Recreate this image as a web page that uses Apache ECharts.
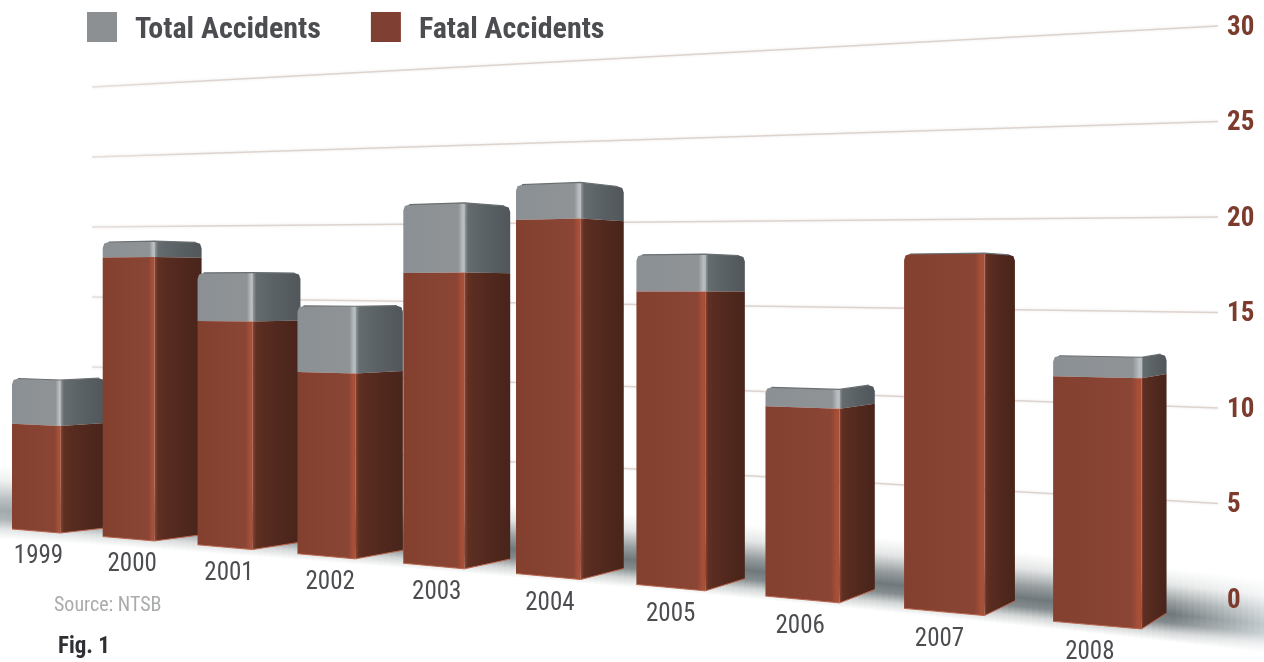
<!DOCTYPE html>
<html><head><meta charset="utf-8">
<style>html,body{margin:0;padding:0;background:#fff}#c{width:1264px;height:662px}</style>
<script src="https://cdn.jsdelivr.net/npm/echarts@6/dist/echarts.min.js"></script>
</head><body><div id="c"></div>
<script>
const years = ['1999','2000','2001','2002','2003','2004','2005','2006','2007','2008'];
const totalAccidents = [10,19,17,15,21,22,18,11,18,13];
const fatalAccidents = [7,18,14,11,17,20,16,10,18,12];
const gridTicks = [5,10,15,20,25,30];

const G = echarts.graphic;
const FONT = '"Roboto Condensed","Open Sans Condensed",sans-serif';
const chart = echarts.init(document.getElementById('c'), null, {renderer:'canvas'});

// Perspective of the scene: depth t (0 = far left bar) to screen geometry
const gridLeft = 12, gridW = 1210, band = gridW / years.length;
const tOf = cx => (cx - gridLeft) / band - 0.5;
const leftEdge  = t => 12 + 82.2*t + 3.72*t*t + 0.15*t*(t-5)*(t-9);
const rightEdge = t => 105 + 86*t + 3.55*t*t + 0.22*t*(t-5)*(t-9);
const cornerFrac = t => 0.52 + 0.0032*t*t;
const baseY = t => 533 + 7.6*t + 0.34*t*t;
const unitPx = t => 15.3 + 0.46*t + 0.018*t*t;
const axisUnit = 19.1, EYE = 290;

function boxGeom(api, cat, vLow, vHigh){
  const p0 = api.coord([cat, 0]);
  const t = tOf(p0[0]);
  const k = unitPx(t)/axisUnit, b = baseY(t);
  const L = leftEdge(t), R = rightEdge(t), C = L + (R-L)*cornerFrac(t);
  const dL = 4 + 0.4*t, dR = 5 + 1.2*t;
  const row = v => {
    const Y = b - (p0[1] - api.coord([cat, v])[1]) * k;
    const f = (Y-EYE)/(b-EYE);
    return {c:Y, l:Y-dL*f, r:Y-dR*f};
  };
  return {t, L, R, C, lo:row(vLow), hi:row(vHigh)};
}
const hGrad = stops => new G.LinearGradient(0,0,1,0,stops.map(c=>({offset:c[0],color:c[1]})));

const RED = {
  front:[[0,'#83402f'],[0.88,'#8a4535'],[0.97,'#ab5038'],[1,'#a54c34']],
  side:[[0,'#8f4430'],[0.08,'#5f2f22'],[0.3,'#572b20'],[1,'#48241a']]
};
const GREY = {
  front:[[0,'#8b9094'],[0.9,'#8f9396'],[0.98,'#bcc1c4'],[1,'#aeb3b6']],
  side:[[0,'#9ba0a3'],[0.08,'#646c6f'],[0.4,'#5c6366'],[1,'#50565a']]
};

function box(api, cat, vLow, vHigh, shade, rounded, z2){
  const {L,R,C,lo,hi} = boxGeom(api, cat, vLow, vHigh);
  const r = rounded ? 6 : 0;
  const fp = rounded
    ? [[L,lo.l],[L,hi.l+r],[L+1.5,hi.l+1.5],[L+r,hi.l],[C,hi.c],[C,lo.c]]
    : [[L,lo.l],[L,hi.l],[C,hi.c],[C,lo.c]];
  const sp = rounded
    ? [[C,lo.c],[C,hi.c],[R-r,hi.r],[R-1.5,hi.r+1.5],[R,hi.r+r],[R,lo.r]]
    : [[C,lo.c],[C,hi.c],[R,hi.r],[R,lo.r]];
  const kids = [
    {type:'polygon', z2, shape:{points:fp}, style:{fill:hGrad(shade.front)}},
    {type:'polygon', z2, shape:{points:sp}, style:{fill:hGrad(shade.side)}}
  ];
  if (rounded) kids.push({type:'polyline', z2, shape:{points:[[L+r,hi.l],[C,hi.c],[R-r,hi.r]]},
      style:{fill:'none',stroke:'#6a6f72',lineWidth:1.2}});
  return kids;
}

function renderTotal(params, api){
  const i = api.value(0), tot = api.value(1), fat = api.value(2);
  if (tot <= fat) return null;
  return {type:'group', children: box(api, i, fat, tot, GREY, true, 10+2*params.dataIndex)};
}
function renderFatal(params, api){
  const i = api.value(0), fat = api.value(1), tot = api.value(2);
  const z2 = 11+2*params.dataIndex;
  const kids = box(api, i, 0, fat, RED, tot <= fat, z2);
  const g = boxGeom(api, i, 0, fat);
  kids.push({type:'polyline', z2, shape:{points:[[g.L,g.lo.l],[g.C,g.lo.c],[g.R,g.lo.r]]},
     style:{fill:'none',stroke:'#b9654c',lineWidth:1}});
  kids.push({type:'text', z2:40, style:{
     text: years[params.dataIndex], x:(g.L+g.R)/2-20, y:baseY(g.t)+24,
     align:'center', verticalAlign:'middle', fill:'#4b4d50',
     font:'25px '+FONT}});
  return {type:'group', children:kids};
}
function renderGridLine(params, api){
  const v = api.value(0);
  const p0 = api.coord([0,0]), pv = api.coord([0,v]);
  const h = p0[1]-pv[1];
  return {type:'line', z2:0, shape:{x1:92, y1:507-h*14/axisUnit, x2:1218, y2:pv[1]+2},
    style:{stroke:new G.LinearGradient(0,0,1,0,[{offset:0,color:'#e6dfdb'},{offset:.1,color:'#ddd4cf'},{offset:1,color:'#ddd3ce'}]),
      lineWidth:1.5, shadowBlur:3, shadowColor:'#ece8e6'}};
}

// Floor shadow (opaque strips so that overlaps do not show)
const shadow = [];
const mix = (a,w) => Math.round(255-(255-a)*w);
for (let x=0; x<1264; x+=6){
  const c = 511 + 0.065*x + 0.00002*x*x;
  const fadeR = x<1170 ? 0 : (x-1170)/94;
  const fadeL = x<300 ? (300-x)/300 : 0;
  const d = 112 + fadeR*85 + fadeL*50;
  const col = w => `rgb(${mix(d,w)},${mix(d+8,w)},${mix(d+11,w)})`;
  shadow.push({type:'rect', z:-1, silent:true,
    shape:{x:x, y:c-46, width:7, height:46+28},
    style:{fill:new G.LinearGradient(0,0,0,1,[
      {offset:0,color:'#ffffff'},{offset:.22,color:col(.18)},{offset:.45,color:col(.72)},
      {offset:.62,color:col(1)},{offset:.74,color:col(.85)},{offset:.87,color:col(.3)},{offset:1,color:'#ffffff'}])}});
}

chart.setOption({
  animation:false,
  backgroundColor:'#ffffff',
  grid:{left:gridLeft, width:gridW, top:24, height:573},
  legend:{
    left:82, top:7, itemWidth:30, itemHeight:30, itemGap:50, icon:'rect',
    data:['Total Accidents','Fatal Accidents'],
    formatter:n=>'{a|'+n+'}',
    textStyle:{rich:{a:{fontFamily:FONT, fontWeight:'bold', fontSize:30, color:'#4b4d50', padding:[6,0,0,13]}}}
  },
  xAxis:{type:'category', data:years, show:false},
  yAxis:{type:'value', min:0, max:30, interval:5, position:'right',
    axisLine:{show:false}, axisTick:{show:false}, splitLine:{show:false},
    axisLabel:{margin:5, fontFamily:FONT, fontWeight:'bold', fontSize:27, color:'#7d3b2e', align:'left', verticalAlign:'top', lineHeight:8}},
  title:[
    {text:'Source: NTSB', left:54, top:596, textStyle:{fontFamily:FONT, fontWeight:'normal', fontSize:20, color:'#a9abad'}, padding:0},
    {text:'Fig. 1', left:58, top:636, textStyle:{fontFamily:FONT, fontWeight:'bold', fontSize:23, color:'#2e3033'}, padding:0}
  ],
  graphic:{elements:shadow},
  series:[
    {type:'custom', name:'gridlines', silent:true, renderItem:renderGridLine,
     encode:{y:0}, data:gridTicks.map(v=>[v]), coordinateSystem:'cartesian2d', dimensions:['v']},
    {type:'custom', name:'Total Accidents', renderItem:renderTotal, itemStyle:{color:'#8c9093'},
     data:years.map((y,i)=>[i,totalAccidents[i],fatalAccidents[i]]), encode:{x:0,y:1}},
    {type:'custom', name:'Fatal Accidents', renderItem:renderFatal, itemStyle:{color:'#803f33'},
     data:years.map((y,i)=>[i,fatalAccidents[i],totalAccidents[i]]), encode:{x:0,y:1}}
  ]
});
</script></body></html>
